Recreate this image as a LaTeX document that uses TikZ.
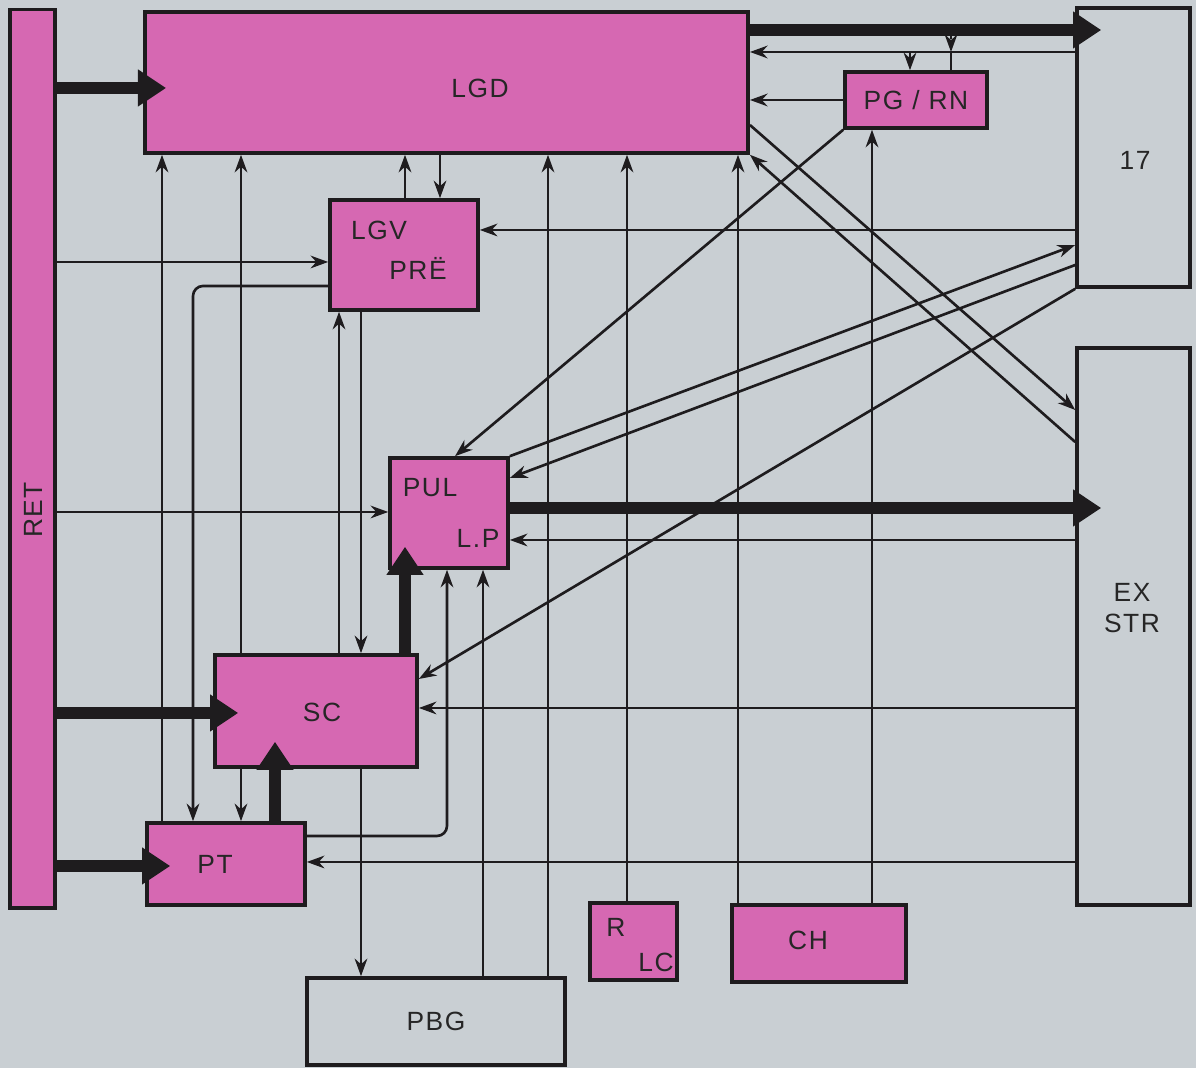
\documentclass[tikz,border=0pt]{standalone}
\usepackage{fontspec}
\setmainfont{Liberation Sans}[LetterSpace=6]
\usetikzlibrary{arrows.meta, positioning, calc}
\definecolor{carta}{RGB}{201,207,211}
\definecolor{rosa}{RGB}{214,104,178}
\definecolor{tratto}{RGB}{30,28,30}

\begin{document}
\begin{tikzpicture}[x=0.01cm, y=-0.01cm, font=\fontsize{7.5}{9}\selectfont,
  blocco/.style={rectangle,draw=tratto,line width=1pt,fill=rosa,inner sep=0pt,text=black!85},
  vuoto/.style={rectangle,draw=tratto,line width=1pt,inner sep=0pt,text=black!85,align=center},
  scritta/.style={inner sep=0pt,text=black!85},
  filo/.style={draw=tratto,line width=0.75pt,-{Stealth[length=5pt,width=3.6pt]}},
  largo/.style={draw=tratto,line width=3.4pt,-{Triangle[length=8pt,width=10pt]}}]

  \fill[carta] (0,0) rectangle (1196,1068);

  % --- blocchi ---
  \node[blocco,minimum width=0.45cm,minimum height=8.98cm] (ret) at (32.5,459) {};
  \node[scritta,rotate=90] (rettxt) at (33,510) {RET};
  \node[blocco,minimum width=6.03cm,minimum height=1.41cm] (lgd) at (446.5,82.5) {};
  \node[scritta] (lgdtxt) at (480,88) {LGD};
  \node[vuoto,minimum width=1.13cm,minimum height=2.79cm] (t17) at (1133.5,147.5) {};
  \node[scritta] (t17txt) at (1135,160) {17};
  \node[vuoto,minimum width=1.13cm,minimum height=5.57cm] (ex) at (1133.5,626.5) {};
  \node[scritta,align=center] (extxt) at (1132,608) {EX\\STR};
  \node[blocco,minimum width=1.42cm,minimum height=0.56cm] (pgrn) at (916,100) {PG / RN};
  \node[blocco,minimum width=1.48cm,minimum height=1.10cm] (lgv) at (404,255) {};
  \node[scritta] (lgvtxt) at (379,230) {LGV};
  \node[scritta] (pretxt) at (418,268) {PRË};
  \node[blocco,minimum width=1.18cm,minimum height=1.10cm] (pul) at (449,513) {};
  \node[scritta] (pultxt) at (430,488) {PUL};
  \node[scritta] (lptxt) at (478,538) {L.P};
  \node[blocco,minimum width=2.02cm,minimum height=1.12cm] (sc) at (316,711) {};
  \node[scritta] (sctxt) at (322,712) {SC};
  \node[blocco,minimum width=1.58cm,minimum height=0.82cm] (pt) at (226,864) {};
  \node[scritta] (pttxt) at (215,864) {PT};
  \node[vuoto,minimum width=2.58cm,minimum height=0.87cm] (pbg) at (436,1021.5) {PBG};
  \node[blocco,minimum width=0.87cm,minimum height=0.77cm] (rlc) at (633.5,941.5) {};
  \node[scritta] (rtxt) at (616,927) {R};
  \node[scritta] (lctxt) at (656,962) {LC};
  \node[blocco,minimum width=1.74cm,minimum height=0.77cm] (ch) at (819,943.5) {};
  \node[scritta] (chtxt) at (808,940) {CH};

  % --- vie larghe ---
  \draw[largo,shorten >=-0.23cm] (ret.east |- 0,88) -- (lgd.west |- 0,88);
  \draw[largo,shorten >=-0.26cm] (lgd.east |- 0,30) -- (t17.west |- 0,30);
  \draw[largo,shorten >=-0.26cm] (pul.east |- 0,508) -- (ex.west |- 0,508);
  \draw[largo,shorten >=-0.25cm] (ret.east |- 0,713) -- (sc.west |- 0,713);
  \draw[largo,shorten >=-0.25cm] (ret.east |- 0,866) -- (pt.west |- 0,866);
  \draw[largo,shorten >=-0.23cm] (405,0 |- sc.north) -- (405,0 |- pul.south);
  \draw[largo,shorten >=-0.27cm] (275,0 |- pt.north) -- (275,0 |- sc.south);

  % --- attorno a LGD e PG/RN ---
  \coordinate (presa) at (951,36);
  \coordinate (nodo1) at (951,52);
  \coordinate (nodo2) at (910,52);
  \draw[filo] (t17.west |- 0,52) -- (lgd.east |- 0,52);
  \draw[filo,densely dotted] (presa) -- (nodo1);
  \draw[filo,-] (nodo1) -- (951,0 |- pgrn.north);
  \draw[filo] (nodo2) -- (910,0 |- pgrn.north);
  \draw[filo] (pgrn.west) -- (lgd.east |- pgrn.west);
  \draw[filo] (pgrn.south west) -- ([xshift=0.06cm]pul.north);
  \draw[filo] (872,0 |- ch.north) -- (872,0 |- pgrn.south);

  % --- verso LGD dal basso ---
  \draw[filo] (738,0 |- ch.north) -- (738,0 |- lgd.south);
  \draw[filo] (627,0 |- rlc.north) -- (627,0 |- lgd.south);
  \draw[filo] (548,0 |- pbg.north) -- (548,0 |- lgd.south);
  \draw[filo] (162,0 |- pt.north) -- (162,0 |- lgd.south);
  \draw[filo] (241,0 |- sc.north) -- (241,0 |- lgd.south);
  \draw[filo] (405,0 |- lgv.north) -- (405,0 |- lgd.south);
  \draw[filo] (440,0 |- lgd.south) -- (440,0 |- lgv.north);

  % --- LGV, SC, PT, PBG ---
  \draw[filo] (ret.east |- 0,262) -- (lgv.west |- 0,262);
  \draw[filo,rounded corners=0.1cm] (lgv.west |- 0,286) -| (193,0 |- pt.north);
  \draw[filo] (339,0 |- sc.north) -- (339,0 |- lgv.south);
  \draw[filo] (361,0 |- lgv.south) -- (361,0 |- sc.north);
  \draw[filo] (361,0 |- sc.south) -- (361,0 |- pbg.north);
  \draw[filo] (241,0 |- sc.south) -- (241,0 |- pt.north);
  \draw[filo] (483,0 |- pbg.north) -- (483,0 |- pul.south);
  \draw[filo,rounded corners=0.1cm] (pt.east |- 0,836) -| (447,0 |- pul.south);
  \draw[filo] (ret.east |- 0,512) -- (pul.west |- 0,512);

  % --- ritorni da 17 e EX STR ---
  \draw[filo] (t17.west |- 0,230) -- (lgv.east |- 0,230);
  \draw[filo] (ex.west |- 0,540) -- (pul.east |- 0,540);
  \draw[filo] (ex.west |- 0,708) -- (sc.east |- 0,708);
  \draw[filo] (ex.west |- 0,862) -- (pt.east |- 0,862);

  % --- diagonali ---
  \draw[filo] (lgd.east |- 0,125) -- (ex.west |- 0,410);
  \draw[filo] (ex.west |- 0,442) -- (lgd.south east);
  \draw[filo] (pul.north east) -- (t17.west |- 0,245);
  \draw[filo] (t17.west |- 0,265) -- (pul.east |- 0,478);
  \draw[filo] (t17.south west) -- (sc.east |- 0,679);
\end{tikzpicture}
\end{document}
